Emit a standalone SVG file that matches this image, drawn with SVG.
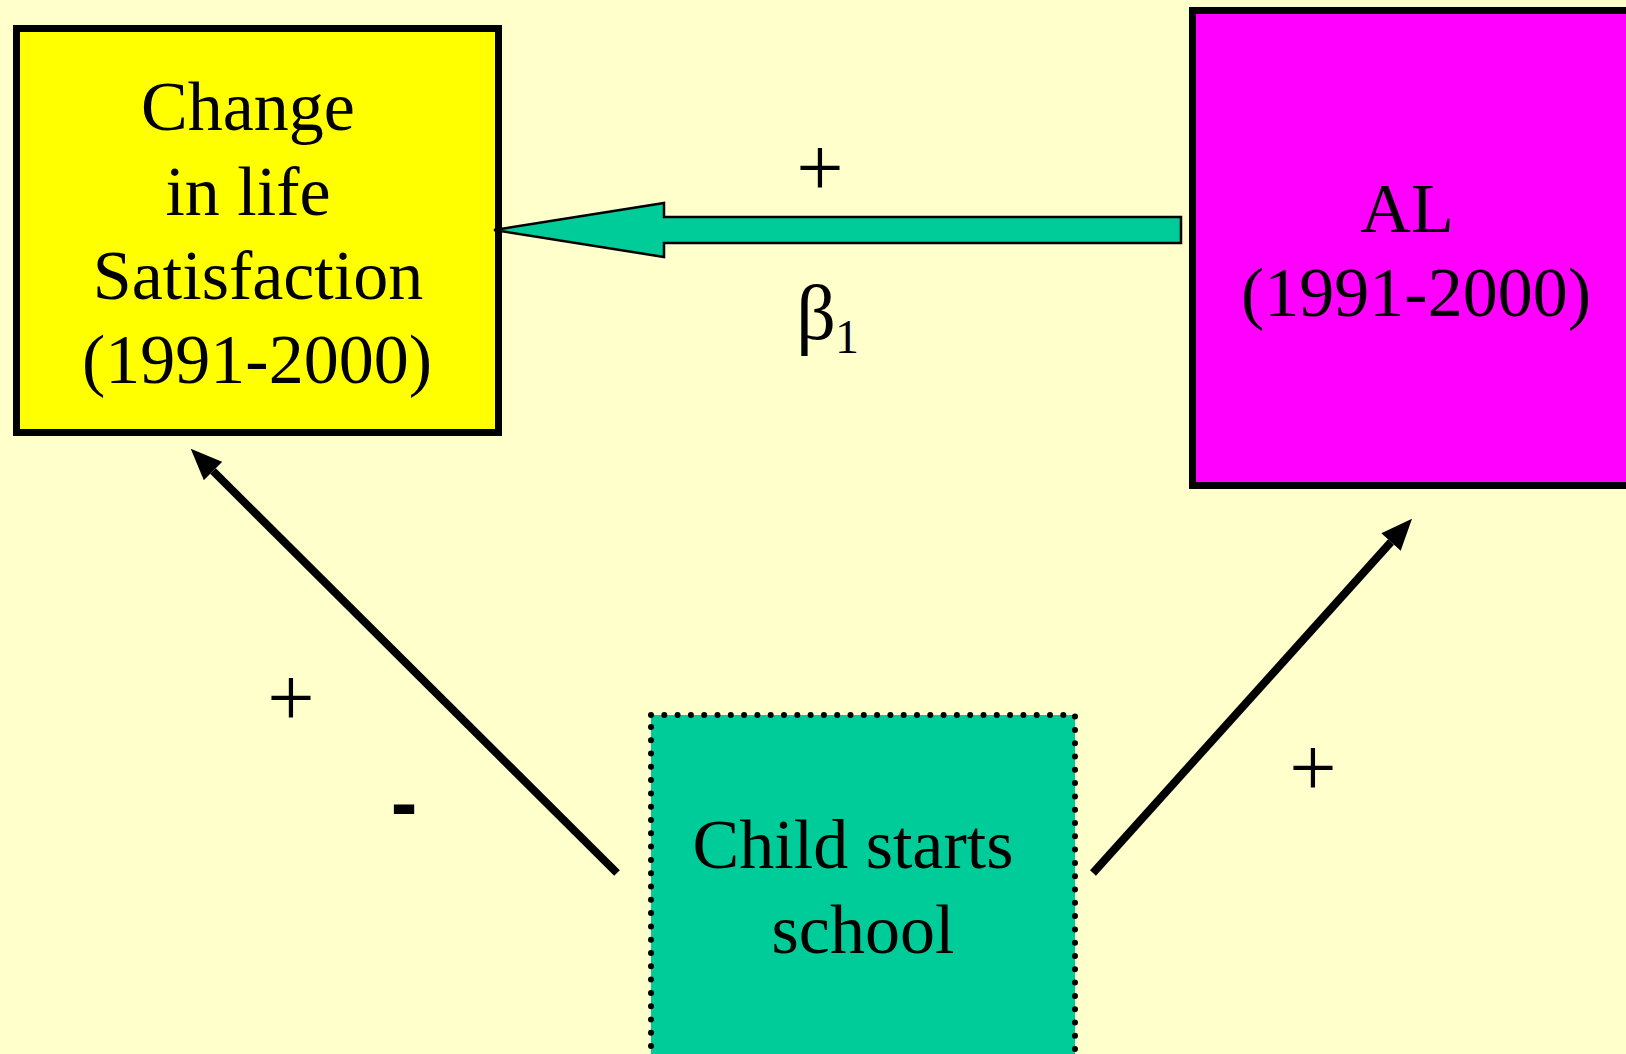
<svg xmlns="http://www.w3.org/2000/svg" width="1626" height="1054" viewBox="0 0 1626 1054">
<style>
.t{font-family:"Liberation Serif","Times New Roman",serif;font-size:70px;fill:#000;text-anchor:middle}
.sign{font-family:"Liberation Serif","Times New Roman",serif;font-size:84px;fill:#000;text-anchor:middle}
.minus{font-family:"Liberation Sans",Arial,sans-serif;font-weight:bold;font-size:80px;fill:#000;text-anchor:middle}
.box{stroke:#000;stroke-width:7}
.conn{stroke:#000;stroke-width:8;fill:none}
</style>
<defs>
<marker id="ah" markerUnits="userSpaceOnUse" markerWidth="32" markerHeight="26" refX="0" refY="12" orient="auto" viewBox="0 0 29 24">
<path d="M0,0 L29,12 L0,24 z" fill="#000"/>
</marker>
</defs>
<rect width="1626" height="1054" fill="#FFFFCC"/>
<g id="node-life-satisfaction">
<rect class="box" x="16.5" y="28.5" width="482" height="404" fill="#FFFF00"/>
<text class="t" x="248" y="130">Change</text>
<text class="t" x="248" y="215">in life</text>
<text class="t" x="258" y="299">Satisfaction</text>
<text class="t" x="257" y="383">(1991-2000)</text>
</g>
<g id="node-al">
<rect class="box" x="1192.5" y="10.5" width="450" height="475" fill="#FF00FF"/>
<text class="t" x="1407" y="232">AL</text>
<text class="t" x="1416" y="316">(1991-2000)</text>
</g>
<g id="node-child">
<rect x="651" y="715" width="424" height="360" fill="#00CC99" stroke="#000" stroke-width="6" stroke-linecap="round" stroke-dasharray="0 13.3"/>
<text class="t" x="853" y="868">Child starts</text>
<text class="t" x="863" y="953">school</text>
</g>
<g id="connectors">
<polygon points="494,230 664,203 664,217 1181,217 1181,243 664,243 664,257" fill="#00CC99" stroke="#000" stroke-width="2.5" stroke-linejoin="miter"/>
<line class="conn" x1="617" y1="873" x2="213" y2="471" marker-end="url(#ah)"/>
<line class="conn" x1="1093" y1="873" x2="1391" y2="542" marker-end="url(#ah)"/>
</g>
<g id="labels">
<text class="sign" x="820" y="196">+</text>
<text class="t" x="816" y="339" style="font-size:78px">β</text>
<text class="t" x="847" y="353" style="font-size:48px">1</text>
<text class="sign" x="291" y="726">+</text>
<text class="minus" x="404" y="830">-</text>
<text class="sign" x="1313" y="796">+</text>
</g>
</svg>
